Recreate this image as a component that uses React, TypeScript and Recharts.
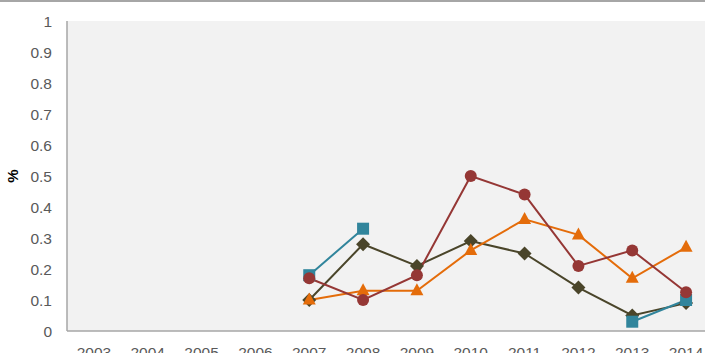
import React from "react";
import { LineChart, Line, XAxis, YAxis, CartesianGrid } from "recharts";

// Survey years on the category axis
const years = ["2003", "2004", "2005", "2006", "2007", "2008", "2009", "2010", "2011", "2012", "2013", "2014"];

// Percentages per series (null = no observation that year)
const squareSeries = [null, null, null, null, 0.18, 0.33, null, null, null, null, 0.03, 0.1];
const diamondSeries = [null, null, null, null, 0.1, 0.28, 0.21, 0.29, 0.25, 0.14, 0.05, 0.09];
const triangleSeries = [null, null, null, null, 0.1, 0.13, 0.13, 0.26, 0.36, 0.31, 0.17, 0.27];
const circleSeries = [null, null, null, null, 0.17, 0.1, 0.18, 0.5, 0.44, 0.21, 0.26, 0.125];

const yTicks = [0, 0.1, 0.2, 0.3, 0.4, 0.5, 0.6, 0.7, 0.8, 0.9, 1];

const data = years.map((year, i) => ({
  year,
  square: squareSeries[i],
  diamond: diamondSeries[i],
  triangle: triangleSeries[i],
  circle: circleSeries[i],
}));

const COLORS = {
  square: "#31859c",
  diamond: "#4a452a",
  triangle: "#e46c0a",
  circle: "#953735",
};

type DotProps = { cx?: number; cy?: number; value?: number | null; index?: number };

const valid = (p: DotProps) =>
  p.cx != null && p.cy != null && p.value != null && !Number.isNaN(p.cy);

const SquareDot = (p: DotProps) =>
  valid(p) ? (
    <rect key={`sq-${p.index}`} x={p.cx! - 6} y={p.cy! - 6} width={12} height={12} fill={COLORS.square} />
  ) : (
    <g key={`sq-${p.index}`} />
  );

const DiamondDot = (p: DotProps) =>
  valid(p) ? (
    <polygon
      key={`dm-${p.index}`}
      points={`${p.cx},${p.cy! - 7} ${p.cx! + 7},${p.cy} ${p.cx},${p.cy! + 7} ${p.cx! - 7},${p.cy}`}
      fill={COLORS.diamond}
    />
  ) : (
    <g key={`dm-${p.index}`} />
  );

const TriangleDot = (p: DotProps) =>
  valid(p) ? (
    <polygon
      key={`tr-${p.index}`}
      points={`${p.cx},${p.cy! - 7.5} ${p.cx! + 6.5},${p.cy! + 4.5} ${p.cx! - 6.5},${p.cy! + 4.5}`}
      fill={COLORS.triangle}
    />
  ) : (
    <g key={`tr-${p.index}`} />
  );

const CircleDot = (p: DotProps) =>
  valid(p) ? (
    <circle key={`ci-${p.index}`} cx={p.cx} cy={p.cy} r={6} fill={COLORS.circle} />
  ) : (
    <g key={`ci-${p.index}`} />
  );

const tickStyle = { fill: "#595959", fontSize: 15.5, fontFamily: "'Liberation Sans', Arial, sans-serif" };

export default function App() {
  return (
    <div
      style={{
        position: "absolute",
        left: 0,
        top: 0,
        width: 705,
        height: 353,
        overflow: "hidden",
        background: "#ffffff",
      }}
    >
      <div style={{ position: "absolute", left: 0, top: 0, width: 705, height: 2, background: "#a6a6a6" }} />
      <LineChart
        width={720}
        height={361}
        data={data}
        margin={{ top: 21, right: 7, left: 0, bottom: 0 }}
      >
        <CartesianGrid horizontal={false} vertical={false} fill="#f2f2f2" stroke="none" />
        <XAxis
          dataKey="year"
          scale="band"
          height={30}
          axisLine={{ stroke: "#a6a6a6", strokeWidth: 1.5 }}
          tickLine={false}
          tickSize={0}
          tickMargin={16}
          tick={tickStyle}
          interval={0}
        />
        <YAxis
          width={67}
          domain={[0, 1]}
          ticks={yTicks}
          interval={0}
          axisLine={{ stroke: "#a6a6a6", strokeWidth: 1.5 }}
          tickLine={false}
          tickSize={0}
          tickMargin={15}
          tick={tickStyle}
          tickFormatter={(v: number) => String(Math.round(v * 10) / 10)}
          label={{
            value: "%",
            angle: -90,
            position: "insideLeft",
            dx: 8,
            style: { fill: "#000", fontSize: 15, fontWeight: "bold", fontFamily: "'Liberation Sans', Arial, sans-serif", textAnchor: "middle" },
          }}
        />
        <Line
          dataKey="diamond"
          stroke={COLORS.diamond}
          strokeWidth={2}
          dot={DiamondDot}
          activeDot={false}
          isAnimationActive={false}
        />
        <Line
          dataKey="square"
          stroke={COLORS.square}
          strokeWidth={2}
          dot={SquareDot}
          activeDot={false}
          connectNulls={false}
          isAnimationActive={false}
        />
        <Line
          dataKey="triangle"
          stroke={COLORS.triangle}
          strokeWidth={2}
          dot={TriangleDot}
          activeDot={false}
          isAnimationActive={false}
        />
        <Line
          dataKey="circle"
          stroke={COLORS.circle}
          strokeWidth={2}
          dot={CircleDot}
          activeDot={false}
          isAnimationActive={false}
        />
      </LineChart>
    </div>
  );
}
